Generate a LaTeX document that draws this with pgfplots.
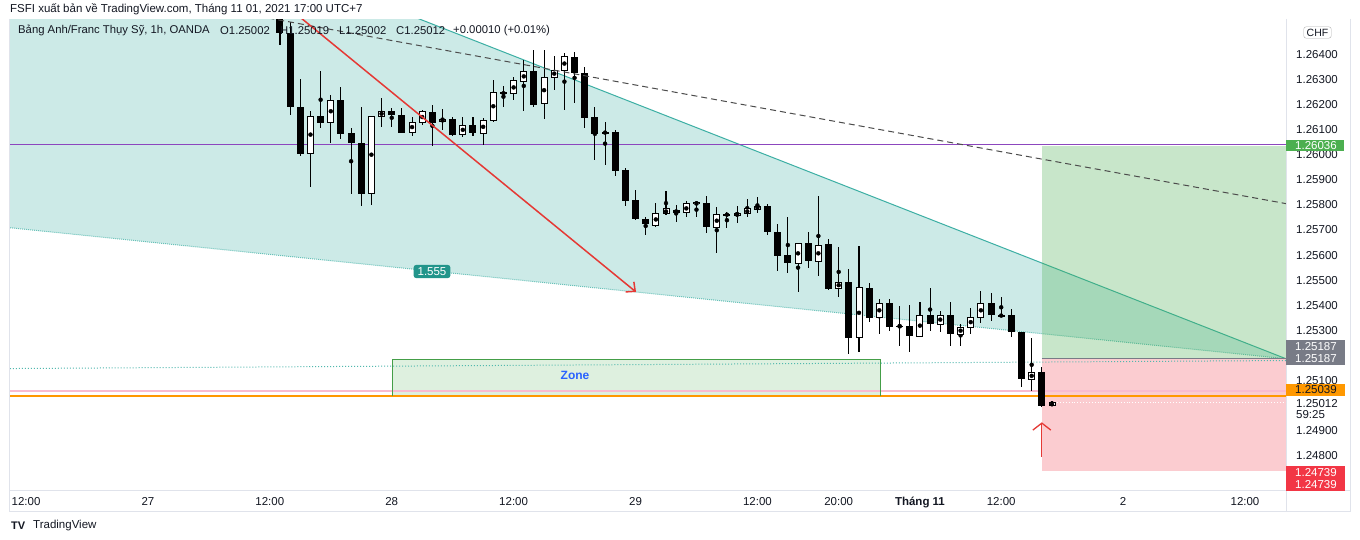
\documentclass[border=0pt]{standalone}
\usepackage{pgfplots}
\pgfplotsset{compat=1.18}
\usepackage{pgfplotstable}
\usepackage{fontspec}
\setmainfont{Liberation Sans}
\usetikzlibrary{arrows.meta}
\definecolor{tv}{RGB}{19,23,34}
\definecolor{tealc}{RGB}{38,166,154}
\definecolor{longg}{RGB}{76,175,80}
\definecolor{shortr}{RGB}{242,54,69}
\definecolor{arrowr}{RGB}{229,57,53}
\definecolor{purp}{RGB}{140,70,190}
\definecolor{pinkl}{RGB}{248,187,208}
\definecolor{orangel}{RGB}{255,152,0}
\definecolor{grayt}{RGB}{120,123,134}
\definecolor{bordg}{RGB}{224,227,235}
\definecolor{zoneb}{RGB}{41,98,255}

% bearish candles: bar index, open, high, low, close
\pgfplotstableread{
i o h l c
0 1.26545 1.26565 1.26437 1.26485
1 1.26485 1.26529 1.26158 1.26190
2 1.26190 1.26302 1.25995 1.26003
4 1.26154 1.26333 1.26106 1.26130
6 1.26218 1.26270 1.26063 1.26086
7 1.26086 1.26106 1.25843 1.26047
8 1.26047 1.26190 1.25796 1.25847
11 1.26174 1.26186 1.26110 1.26158
12 1.26158 1.26186 1.26090 1.26090
15 1.26170 1.26198 1.26035 1.26130
17 1.26142 1.26150 1.26074 1.26082
19 1.26118 1.26150 1.26074 1.26086
22 1.26250 1.26274 1.26190 1.26242
25 1.26333 1.26417 1.26190 1.26202
29 1.26389 1.26409 1.26206 1.26326
30 1.26326 1.26349 1.26106 1.26146
31 1.26150 1.26190 1.25979 1.26086
32 1.26090 1.26130 1.25959 1.26086
33 1.26090 1.26098 1.25915 1.25935
34 1.25939 1.25947 1.25796 1.25816
35 1.25820 1.25859 1.25740 1.25744
36 1.25744 1.25752 1.25680 1.25724
39 1.25780 1.25800 1.25732 1.25768
42 1.25808 1.25835 1.25688 1.25712
44 1.25764 1.25772 1.25708 1.25760
48 1.25796 1.25804 1.25680 1.25692
49 1.25692 1.25724 1.25537 1.25596
50 1.25600 1.25752 1.25529 1.25569
52 1.25648 1.25692 1.25549 1.25577
54 1.25644 1.25664 1.25461 1.25469
56 1.25493 1.25545 1.25206 1.25270
58 1.25469 1.25489 1.25333 1.25353
60 1.25409 1.25425 1.25298 1.25314
61 1.25318 1.25397 1.25238 1.25314
62 1.25318 1.25401 1.25214 1.25278
64 1.25361 1.25469 1.25298 1.25326
66 1.25361 1.25413 1.25238 1.25286
70 1.25409 1.25449 1.25337 1.25361
71 1.25361 1.25433 1.25353 1.25357
72 1.25361 1.25385 1.25274 1.25294
73 1.25294 1.25294 1.25075 1.25106
75 1.25134 1.25154 1.24995 1.25002
}\bear

% bullish candles
\pgfplotstableread{
i o h l c
3 1.26007 1.26174 1.25871 1.26154
5 1.26130 1.26238 1.26047 1.26218
9 1.25847 1.26154 1.25800 1.26154
10 1.26154 1.26226 1.26110 1.26174
13 1.26090 1.26150 1.26074 1.26130
14 1.26130 1.26182 1.26122 1.26174
16 1.26134 1.26182 1.26098 1.26142
18 1.26082 1.26150 1.26071 1.26118
20 1.26086 1.26146 1.26039 1.26138
21 1.26138 1.26298 1.26130 1.26250
23 1.26242 1.26310 1.26218 1.26294
24 1.26294 1.26377 1.26174 1.26333
26 1.26206 1.26417 1.26142 1.26310
27 1.26310 1.26393 1.26258 1.26337
28 1.26337 1.26405 1.26178 1.26389
37 1.25720 1.25808 1.25712 1.25764
38 1.25764 1.25855 1.25760 1.25784
40 1.25768 1.25816 1.25752 1.25804
41 1.25804 1.25812 1.25752 1.25808
43 1.25712 1.25792 1.25608 1.25764
45 1.25760 1.25796 1.25728 1.25768
46 1.25764 1.25824 1.25752 1.25784
47 1.25784 1.25831 1.25768 1.25796
51 1.25569 1.25648 1.25453 1.25648
53 1.25577 1.25835 1.25517 1.25640
55 1.25469 1.25632 1.25433 1.25493
57 1.25270 1.25636 1.25214 1.25469
59 1.25353 1.25425 1.25286 1.25409
63 1.25278 1.25413 1.25274 1.25361
65 1.25326 1.25377 1.25294 1.25361
67 1.25286 1.25326 1.25238 1.25314
68 1.25314 1.25389 1.25286 1.25353
69 1.25353 1.25457 1.25330 1.25409
74 1.25106 1.25270 1.25059 1.25134
76 1.25002 1.25019 1.25002 1.25012
}\bull

\newcommand{\tvf}{\fontsize{11.5bp}{13bp}\selectfont}

\begin{document}
\begin{tikzpicture}
\useasboundingbox (0,0) rectangle (1360bp,540bp);
\fill[white] (0,0) rectangle (1360bp,540bp);
\begin{axis}[
  at={(10bp,49bp)}, anchor=south west, scale only axis,
  width=1276bp, height=471bp,
  xmin=-26.58, xmax=99.04, ymin=1.246602, ymax=1.265366,
  clip mode=individual,
  axis line style={draw=none},
  tick style={draw=none},
  xtick={-25,-13,-1,11,23,35,47,55,63,71,83,95},
  xticklabels={12:00,27,12:00,28,12:00,29,12:00,20:00,\textbf{Tháng 11},12:00,2,12:00},
  xticklabel style={font=\tvf, text=tv, yshift=-2.5bp},
  ytick={1.248,1.249,1.251,1.253,1.254,1.255,1.256,1.257,1.258,1.259,1.260,1.261,1.262,1.263,1.264},
  yticklabels={1.24800,1.24900,1.25100,1.25300,1.25400,1.25500,1.25600,1.25700,1.25800,1.25900,1.26000,1.26100,1.26200,1.26300,1.26400},
  yticklabel pos=right,
  yticklabel style={font=\tvf, text=tv, anchor=west, inner sep=0pt, xshift=10bp},
]
% teal fan area
\addplot[draw=none, fill=tealc, fill opacity=0.23] coordinates {(-26.58,1.27180) (99.04,1.25187) (-26.58,1.25709)} -- cycle;
\addplot[tealc!90!white, line width=1bp] coordinates {(-26.58,1.27180) (99.04,1.25187)};
\addplot[tealc!70!white, line width=1bp, densely dotted] coordinates {(-26.58,1.25709) (99.04,1.25187)};
% long position
\addplot[draw=none, fill=longg, fill opacity=0.3] coordinates {(75,1.25187) (99.04,1.25187) (99.04,1.26036) (75,1.26036)} -- cycle;
\addplot[draw=none, fill=shortr, fill opacity=0.25] coordinates {(75,1.24739) (99.04,1.24739) (99.04,1.25187) (75,1.25187)} -- cycle;
% zone
\addplot[draw=none, fill=longg, fill opacity=0.18] coordinates {(11.06,1.25039) (59.07,1.25039) (59.07,1.25186) (11.06,1.25186)} -- cycle;
% horizontal levels
\addplot[purp, line width=0.7bp] coordinates {(-26.58,1.26040) (99.04,1.26040)};
\addplot[pinkl, line width=1.3bp] coordinates {(-26.58,1.25059) (99.04,1.25059)};
\addplot[orangel, line width=1.3bp] coordinates {(-26.58,1.25039) (99.04,1.25039)};
\addplot[longg!90!black, line width=0.9bp] coordinates {(11.06,1.25039) (11.06,1.25186) (59.07,1.25186) (59.07,1.25039)};
\addplot[tealc!80!white, line width=1bp, dotted] coordinates {(-26.58,1.25148) (99.04,1.25180)};
\addplot[grayt, line width=0.8bp] coordinates {(75,1.25187) (99.04,1.25187)};
\addplot[white, line width=0.9bp, dotted] coordinates {(76.5,1.25012) (99.04,1.25012)};
% wicks
\addplot[only marks, mark=none, error bars/.cd, y dir=both, y explicit, error mark=none,
  error bar style={draw=black, line width=1.1bp}]
  table[x=i, y expr={(\thisrow{h}+\thisrow{l})/2}, y error expr={(\thisrow{h}-\thisrow{l})/2}] {\bear};
\addplot[only marks, mark=none, error bars/.cd, y dir=both, y explicit, error mark=none,
  error bar style={draw=black, line width=1.1bp}]
  table[x=i, y expr={(\thisrow{h}+\thisrow{l})/2}, y error expr={(\thisrow{h}-\thisrow{l})/2}] {\bull};
% bodies
\addplot[only marks, mark=none, error bars/.cd, y dir=both, y explicit, error mark=none,
  error bar style={draw=black, line width=7bp, line cap=butt}]
  table[x=i, y expr={(\thisrow{o}+\thisrow{c})/2}, y error expr={(\thisrow{o}-\thisrow{c})/2+0.000008}] {\bear};
\addplot[only marks, mark=none, error bars/.cd, y dir=both, y explicit, error mark=none,
  error bar style={draw=black, line width=7bp, line cap=butt}]
  table[x=i, y expr={(\thisrow{o}+\thisrow{c})/2}, y error expr={(\thisrow{c}-\thisrow{o})/2+0.000022}] {\bull};
\addplot[only marks, mark=none, error bars/.cd, y dir=both, y explicit, error mark=none,
  error bar style={draw=white, line width=5bp, line cap=butt}]
  table[x=i, y expr={(\thisrow{o}+\thisrow{c})/2}, y error expr={max((\thisrow{c}-\thisrow{o})/2-0.000018,0)}] {\bull};
% trend lines over candles
\addplot[black!70, line width=1bp, dash pattern=on 6bp off 4bp] coordinates {(-5.02,1.26573) (99.04,1.25805)};
\addplot[arrowr, line width=1.5bp, -{Straight Barb[length=7bp,width=13bp,line width=1.5bp]}] coordinates {(1.77,1.265546) (35.05,1.25453)};
\addplot[arrowr, line width=1.3bp, -{Straight Barb[length=7bp,width=18bp,line width=1.3bp]}] coordinates {(75.0,1.24796) (75.0,1.24934)};
\end{axis}

\begin{scope}[x=1bp, y=-1bp, yshift=540bp]
% panel borders
\draw[bordg, line width=1bp] (10,491) -- (1350,491);
\draw[bordg, line width=1bp] (10,512) -- (1350,512);
\draw[bordg, line width=1.5bp] (9.5,19) -- (9.5,512);
\draw[bordg, line width=1bp] (1286,19) -- (1286,512);
\draw[bordg, line width=1bp] (1350,19) -- (1350,512);
% header
\node[anchor=west, inner sep=0pt, font=\tvf, text=tv] at (10,9) {FSFI xuất bản về TradingView.com, Tháng 11 01, 2021 17:00 UTC+7};
\begin{scope}[every node/.style={anchor=west, inner sep=0pt, font=\fontsize{11.3bp}{12bp}\selectfont, text=tv}]
\node at (18,30.5) {Bảng Anh/Franc Thụy Sỹ, 1h, OANDA};
\node at (220,30.5) {O1.25002};
\node at (280,30.5) {H1.25019};
\node at (339,30.5) {L1.25002};
\node at (396,30.5) {C1.25012};
\node at (453,30.5) {+0.00010 (+0.01\%)};
\end{scope}
% fan ratio label
\node[fill=tealc!90!black, rounded corners=2.5bp, text=white, font=\fontsize{11.5bp}{13bp}\selectfont, inner xsep=4bp, inner ysep=2.5bp] at (432,271.5) {1.555};
% zone label
\node[text=zoneb, font=\fontsize{12bp}{13bp}\selectfont\bfseries] at (575,375.5) {Zone};
% right scale tags
\node[draw=gray!60, fill=white, rounded corners=2.5bp, font=\fontsize{10.5bp}{11bp}\selectfont, text=tv, inner xsep=3bp, inner ysep=2bp] at (1317.5,32.5) {CHF};
\fill[longg] (1286,140.5) rectangle (1344,151);
\node[text=white, font=\tvf] at (1316,145.8) {1.26036};
\fill[grayt] (1286,340) rectangle (1345,365);
\node[text=white, font=\tvf] at (1316,346.7) {1.25187};
\node[text=white, font=\tvf] at (1316,359) {1.25187};
\fill[orangel] (1286,384) rectangle (1345,396);
\node[text=tv, font=\tvf] at (1316,390) {1.25039};
\fill[white] (1287,397) rectangle (1345,421);
\node[text=tv, font=\tvf] at (1317,404) {1.25012};
\node[text=tv, font=\tvf, anchor=west, inner sep=0pt] at (1296,415) {59:25};
\fill[shortr] (1286,466) rectangle (1345,491);
\node[text=white, font=\tvf] at (1316,472.3) {1.24739};
\node[text=white, font=\tvf] at (1316,484.6) {1.24739};
% footer logo
\node[anchor=west, inner sep=0pt, font=\fontsize{11bp}{12bp}\selectfont\bfseries, text=tv] at (11,526) {TV};
\node[anchor=west, inner sep=0pt, font=\fontsize{11.5bp}{13bp}\selectfont, text=tv] at (33,526) {TradingView};
\end{scope}
\end{tikzpicture}
\end{document}
